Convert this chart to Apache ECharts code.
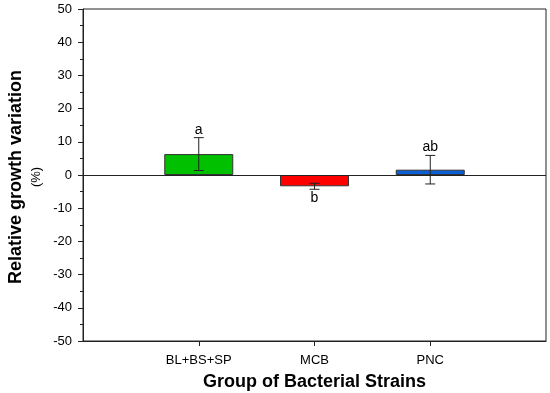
<!DOCTYPE html>
<html>
<head>
<meta charset="utf-8">
<script src="https://cdn.jsdelivr.net/npm/echarts@6/dist/echarts.min.js"></script>
<style>html,body{margin:0;padding:0;background:#fff}#c{width:550px;height:393px}</style>
</head>
<body>
<div id="c"></div>
<script>
var categories = ['', 'BL+BS+SP', 'MCB', 'PNC', ''];
var means = [null, 6.3, -3.4, 1.6, null];
var errors = [null, 4.95, 0.9, 4.3, null];
var letters = [null, 'a', 'b', 'ab', null];
var barColors = [null, '#00c000', '#ff0000', '#0b5fd6', null];

var chart = echarts.init(document.getElementById('c'), null, {renderer: 'canvas'});

var barData = means.map(function (v, i) {
  if (v === null) return null;
  return {value: v, itemStyle: {color: barColors[i]}};
});
var errData = [];
means.forEach(function (v, i) {
  if (v !== null) errData.push([i, v, errors[i]]);
});

var option = {
  animation: false,
  grid: {left: 83, right: 4, top: 9, bottom: 52, outerBoundsMode: 'none', containLabel: false,
    show: true, borderColor: '#222', borderWidth: 1, backgroundColor: 'transparent'},
  xAxis: {
    type: 'category',
    data: categories,
    boundaryGap: false,
    axisLine: {onZero: false, lineStyle: {color: '#222', width: 1}},
    axisTick: {
      interval: function (i) { return i >= 1 && i <= 3; },
      length: 5, lineStyle: {color: '#222'}
    },
    axisLabel: {
      interval: 0, color: '#000', fontFamily: 'Liberation Sans, Arial', fontSize: 13, margin: 13
    },
    splitLine: {show: false},
    name: 'Group of Bacterial Strains',
    nameLocation: 'middle',
    nameGap: 32,
    nameTextStyle: {color: '#000', fontFamily: 'Liberation Sans, Arial', fontSize: 18, fontWeight: 'bold'}
  },
  yAxis: {
    type: 'value',
    min: -50, max: 50, interval: 10,
    axisLine: {show: true, onZero: false, lineStyle: {color: '#222', width: 1}},
    axisTick: {show: true, inside: false, length: 5, lineStyle: {color: '#222'}},
    minorTick: {show: true, splitNumber: 2, length: 3, lineStyle: {color: '#222'}},
    axisLabel: {color: '#000', fontFamily: 'Liberation Sans, Arial', fontSize: 13, margin: 11},
    splitLine: {show: false}
  },
  graphic: [
    {
      type: 'text', rotation: Math.PI / 2, x: 16, y: 177,
      style: {
        text: 'Relative growth variation', fill: '#000',
        font: 'bold 18px "Liberation Sans", Arial', align: 'center', verticalAlign: 'middle'
      }
    },
    {
      type: 'text', rotation: Math.PI / 2, x: 36, y: 177,
      style: {
        text: '(%)', fill: '#000',
        font: '13px "Liberation Sans", Arial', align: 'center', verticalAlign: 'middle'
      }
    }
  ],
  series: [
    {
      type: 'bar',
      data: barData,
      barWidth: 69,
      itemStyle: {borderColor: '#333', borderWidth: 1},
      markLine: {
        silent: true, symbol: 'none', label: {show: false},
        lineStyle: {color: '#222', width: 1, type: 'solid'},
        data: [{yAxis: 0}]
      },
      z: 2
    },
    {
      type: 'custom',
      data: errData,
      z: 5,
      renderItem: function (params, api) {
        var x = api.value(0), m = api.value(1), e = api.value(2);
        var top = api.coord([x, m + e]);
        var bot = api.coord([x, m - e]);
        var hw = 5;
        var style = {stroke: '#222', lineWidth: 1};
        var letter = letters[x];
        var above = m >= 0;
        var ty = above ? top[1] - 8 : bot[1] + 9;
        return {
          type: 'group',
          children: [
            {type: 'line', shape: {x1: top[0], y1: top[1], x2: bot[0], y2: bot[1]}, style: style},
            {type: 'line', shape: {x1: top[0] - hw, y1: top[1], x2: top[0] + hw, y2: top[1]}, style: style},
            {type: 'line', shape: {x1: bot[0] - hw, y1: bot[1], x2: bot[0] + hw, y2: bot[1]}, style: style},
            {type: 'text', x: top[0], y: ty, style: {
              text: letter, fill: '#000', font: '14px "Liberation Sans", Arial',
              align: 'center', verticalAlign: 'middle'
            }}
          ]
        };
      }
    }
  ]
};
chart.setOption(option);
</script>
</body>
</html>
